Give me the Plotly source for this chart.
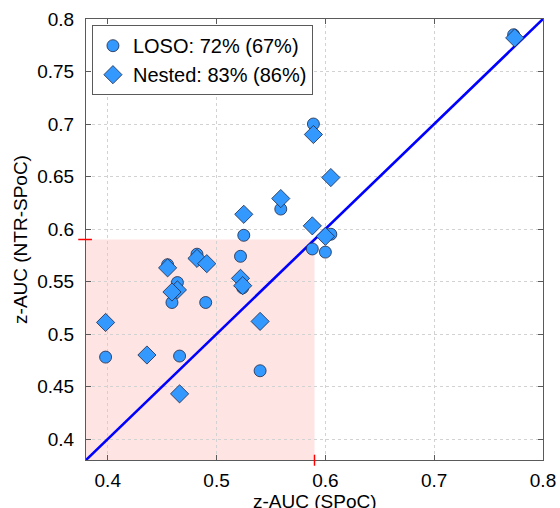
import plotly.graph_objects as go

# Data
loso_x = [0.773, 0.589, 0.559, 0.605, 0.588, 0.600, 0.525, 0.522, 0.524, 0.540,
          0.455, 0.482, 0.464, 0.459, 0.490, 0.398, 0.466]
loso_y = [0.785, 0.700, 0.619, 0.595, 0.581, 0.578, 0.594, 0.574, 0.544, 0.465,
          0.566, 0.576, 0.549, 0.530, 0.530, 0.478, 0.479]
nested_x = [0.774, 0.589, 0.605, 0.559, 0.588, 0.600, 0.525, 0.522, 0.524, 0.540,
            0.455, 0.482, 0.491, 0.464, 0.459, 0.398, 0.436, 0.466]
nested_y = [0.782, 0.690, 0.649, 0.629, 0.603, 0.593, 0.614, 0.553, 0.546, 0.512,
            0.563, 0.572, 0.567, 0.542, 0.540, 0.511, 0.480, 0.443]
axis_lim = [0.38, 0.8]
chance_thr = 0.59
x_ticks = [0.4, 0.5, 0.6, 0.7, 0.8]
y_ticks = [0.4, 0.45, 0.5, 0.55, 0.6, 0.65, 0.7, 0.75, 0.8]
labels = ["LOSO: 72% (67%)", "Nested: 83% (86%)"]
x_title = "z-AUC (SPoC)"
y_title = "z-AUC (NTR-SPoC)"

FONT = "Liberation Sans, Arial, Helvetica, sans-serif"
fill = "rgb(51,153,255)"
edge = "rgb(30,40,70)"

fig = go.Figure()
fig.add_trace(go.Scatter(x=axis_lim, y=axis_lim, mode="lines",
                         line=dict(color="rgb(0,0,255)", width=2.6),
                         showlegend=False, hoverinfo="skip"))
fig.add_trace(go.Scatter(x=loso_x, y=loso_y, mode="markers", name=labels[0],
                         marker=dict(symbol="circle", size=12, color=fill,
                                     line=dict(color=edge, width=0.8))))
fig.add_trace(go.Scatter(x=nested_x, y=nested_y, mode="markers", name=labels[1],
                         marker=dict(symbol="diamond", size=14, color=fill,
                                     line=dict(color=edge, width=0.8))))

# shaded region below chance threshold
fig.add_shape(type="rect", xref="x", yref="y", x0=axis_lim[0], x1=chance_thr,
              y0=axis_lim[0], y1=chance_thr, fillcolor="rgb(255,228,228)",
              line=dict(width=0), layer="below")
# red threshold ticks on axes
fig.add_shape(type="line", xref="x", yref="paper", x0=chance_thr, x1=chance_thr,
              y0=-0.013, y1=0.012, line=dict(color="red", width=1.5))
fig.add_shape(type="line", xref="paper", yref="y", x0=-0.017, x1=0.013,
              y0=chance_thr, y1=chance_thr, line=dict(color="red", width=1.5))

axis_common = dict(showgrid=True, gridcolor="rgb(210,210,210)", griddash="dot",
                   gridwidth=1, zeroline=False, showline=True,
                   linecolor="rgb(90,90,90)", linewidth=1, mirror="ticks",
                   ticks="inside", ticklen=5, tickcolor="rgb(90,90,90)",
                   tickfont=dict(family=FONT, size=19, color="black"))

fig.update_xaxes(range=axis_lim, tickvals=x_ticks,
                 ticktext=[f"{v:g}" for v in x_ticks], ticklabelstandoff=3,
                 **axis_common)
fig.update_yaxes(range=axis_lim, tickvals=y_ticks,
                 ticktext=[f"{v:g}" for v in y_ticks], ticklabelstandoff=7,
                 title=dict(text=y_title, font=dict(family=FONT, size=19, color="black"),
                            standoff=4),
                 **axis_common)

# x-axis title placed as annotation (sits partly below the page edge as in the reference)
fig.add_annotation(text=x_title, xref="paper", yref="paper", x=0.5, y=-0.066,
                   xanchor="center", yanchor="top", showarrow=False,
                   font=dict(family=FONT, size=19, color="black"))

fig.update_layout(
    width=560, height=508,
    margin=dict(l=85.5, r=17, t=19, b=47.5, autoexpand=False),
    paper_bgcolor="white", plot_bgcolor="white",
    font=dict(family=FONT, size=19, color="black"),
    legend=dict(x=0.013, y=0.986, xanchor="left", yanchor="top",
                bgcolor="white", bordercolor="rgb(90,90,90)", borderwidth=1,
                font=dict(family=FONT, size=20, color="black"),
                itemsizing="trace", tracegroupgap=0),
)

fig.write_html("out.html", config={"displayModeBar": False},
               post_script="document.body.style.margin='0';"
                           "document.documentElement.style.overflow='hidden';")
